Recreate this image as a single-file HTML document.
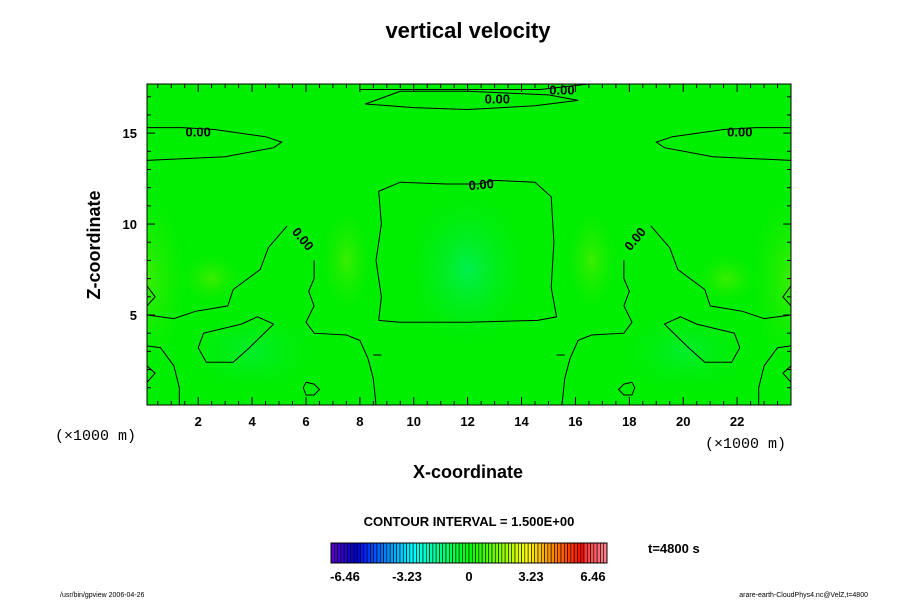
<!DOCTYPE html>
<html><head><meta charset="utf-8"><style>
body{margin:0;background:#fff;}
svg text{font-family:"Liberation Sans",sans-serif;}
svg text.mono{font-family:"Liberation Mono",monospace;}
</style></head><body>
<svg id="chart" width="900" height="600" xmlns="http://www.w3.org/2000/svg">
<defs>
<radialGradient id="gC"><stop offset="0" stop-color="#00f070"/><stop offset="1" stop-color="#00ee00" stop-opacity="0"/></radialGradient>
<radialGradient id="gY"><stop offset="0" stop-color="#55ee00"/><stop offset="1" stop-color="#22ee00" stop-opacity="0"/></radialGradient>
<radialGradient id="gL"><stop offset="0" stop-color="#00ee40"/><stop offset="1" stop-color="#00ee00" stop-opacity="0"/></radialGradient>
<clipPath id="clipP"><rect x="147" y="84" width="644" height="321"/></clipPath>
</defs>
<text x="468" y="38" font-size="22" font-weight="bold" text-anchor="middle">vertical velocity</text>
<g id="plot"></g>
<text transform="translate(100,245) rotate(-90)" font-size="18" font-weight="bold" text-anchor="middle">Z-coordinate</text>
<text x="468" y="478" font-size="18" font-weight="bold" text-anchor="middle">X-coordinate</text>
<text class="mono" x="55" y="440" font-size="15">(×1000 m)</text>
<text class="mono" x="705" y="448" font-size="15">(×1000 m)</text>
<text x="469" y="526" font-size="13" font-weight="bold" text-anchor="middle">CONTOUR INTERVAL = 1.500E+00</text>
<g id="cbar"></g>
<text x="648" y="553" font-size="13" font-weight="bold">t=4800 s</text>
<text x="60" y="597" font-size="7">/usr/bin/gpview 2006-04-26</text>
<text x="868" y="597" font-size="7" text-anchor="end">arare-earth-CloudPhys4.nc@VelZ,t=4800</text>
</svg>
<script>
const xTicks=[2,4,6,8,10,12,14,16,18,20,22];
const yTicks=[5,10,15];
const cbarTicks=[-6.46,-3.23,0,3.23,6.46];
const cbarLabels=["-6.46","-3.23","0","3.23","6.46"];
const contourLabels=[[2,15.1],[5.9,9.2],[12.5,12.2],[13.1,16.9],[15.5,17.4],[22.1,15.1],[18.2,9.2]];
const leftTop=[[0.1,15.3],[1.4,15.3],[2.6,15.2],[4.5,14.8],[5.1,14.5],[4.8,14.2],[3,13.7],[0.1,13.5]];
const leftMount=[[0.1,5.0],[1.1,4.8],[1.9,5.2],[3.1,5.5],[3.3,6.4],[4.3,7.5],[4.6,8.7],[5.3,9.9]];
const leftMount2=[[6.3,8.0],[6.3,7.0],[6.1,6.3],[6.3,5.5],[6.0,4.6],[6.3,4.0],[7.5,3.9],[8.0,3.6],[8.3,2.6],[8.5,1.5],[8.6,0.05]];
const blob=[[4.8,4.5],[4.2,4.9],[3.6,4.5],[2.2,4.0],[2.0,3.2],[2.3,2.4],[3.3,2.4],[3.9,3.2],[4.8,4.5]];
const lowCorner=[[0.1,3.3],[0.6,3.2],[1.1,2.2],[1.3,1.0],[1.3,0.05]];
const lowBump=[[0.1,2.2],[0.4,1.8],[0.1,1.3]];
const edgeBump=[[0.1,6.6],[0.4,6.0],[0.1,5.5]];
const ring=[[6.0,1.3],[6.3,1.2],[6.5,0.9],[6.3,0.6],[6.0,0.6],[5.9,1.0],[6.0,1.3]];
const centerBox=[[8.7,4.7],[9.5,4.6],[12,4.6],[14.6,4.7],[15.3,4.9],[15.1,6.5],[15.2,9],[15.1,11.5],[14.5,12.3],[13,12.4],[12.4,12.2],[11.2,12.2],[9.5,12.3],[8.7,11.8],[8.8,10],[8.6,8],[8.8,6],[8.7,4.7]];
const topLens=[[8.2,16.6],[10,16.4],[12,16.3],[14.5,16.5],[16.1,16.8],[15,17.1],[12,17.3],[9.5,17.3],[8.2,16.6]];
const topLine=[[8.0,17.4],[11.5,17.4],[14.7,17.4],[16.5,17.7]];
const dash=[[8.5,2.8],[8.8,2.8]];
const X0=0.1,X1=24,Y0=0.05,Y1=17.7,PL=147,PR=791,PT=84,PB=405;
const sx=x=>PL+(x-X0)/(X1-X0)*(PR-PL);
const sy=y=>PB-(y-Y0)/(Y1-Y0)*(PB-PT);
const NS="http://www.w3.org/2000/svg";
const plot=document.getElementById('plot');
function mk(tag,attrs,parent){const e=document.createElementNS(NS,tag);for(const k in attrs)e.setAttribute(k,attrs[k]);parent.appendChild(e);return e;}
const field=mk('g',{'clip-path':'url(#clipP)'},plot);


let bg=mk('rect',{x:PL,y:PT,width:PR-PL,height:PB-PT,fill:'#00ee00'},field);


const blobs=[[12,7.5,70,90,'url(#gC)'],[0.1,7,40,90,'url(#gY)'],[24,7,40,90,'url(#gY)'],[2.5,7,30,25,'url(#gY)'],[21.6,7,30,25,'url(#gY)'],[7.5,8,25,50,'url(#gY)'],[16.6,8,25,50,'url(#gY)'],[4,3,80,50,'url(#gL)'],[20.1,3,80,50,'url(#gL)']];
blobs.forEach(b=>{const e=mk('ellipse',{cx:sx(b[0]),cy:sy(b[1]),rx:b[2],ry:b[3],fill:b[4],opacity:0.7},field);

});
function line(pts,mirror){const d=pts.map((p,i)=>(i?'L':'M')+sx(mirror?24.1-p[0]:p[0]).toFixed(1)+','+sy(p[1]).toFixed(1)).join('');
const e=mk('path',{d:d,fill:'none',stroke:'#000','stroke-width':1},field);

}
[leftTop,leftMount,leftMount2,blob,lowCorner,lowBump,edgeBump,ring,dash].forEach(p=>{line(p,false);line(p,true);});
[centerBox,topLens,topLine].forEach(p=>line(p,false));
contourLabels.forEach((c,i)=>{const rot=(i==1)?50:(i==6?-50:(i==2?-5:0));
const t=mk('text',{x:sx(c[0]),y:sy(c[1])+5,'font-size':13,'font-weight':'bold','text-anchor':'middle',transform:`rotate(${rot},${sx(c[0])},${sy(c[1])})`},plot);


t.textContent='0.00';});
let fr=mk('rect',{x:PL,y:PT,width:PR-PL,height:PB-PT,fill:'none',stroke:'#000','stroke-width':1},plot);


for(let v=0.5;v<24;v+=0.5){const big=v%2==0;const l=big?8:4;
mk('line',{x1:sx(v),x2:sx(v),y1:PB,y2:PB-l,stroke:'#000'},plot);mk('line',{x1:sx(v),x2:sx(v),y1:PT,y2:PT+l,stroke:'#000'},plot);}
for(let v=1;v<=17;v++){const big=v%5==0;const l=big?8:4;
mk('line',{x1:PL,x2:PL+l,y1:sy(v),y2:sy(v),stroke:'#000'},plot);mk('line',{x1:PR,x2:PR-l,y1:sy(v),y2:sy(v),stroke:'#000'},plot);}
xTicks.forEach(v=>{const t=mk('text',{x:sx(v),y:PB+21,'font-size':13,'font-weight':'bold','text-anchor':'middle'},plot);


t.textContent=v;});
yTicks.forEach(v=>{const t=mk('text',{x:PL-10,y:sy(v)+5,'font-size':13,'font-weight':'bold','text-anchor':'end'},plot);


t.textContent=v;});
const cb=document.getElementById('cbar');const CL=331,CR=607,N=84,w=(CR-CL)/N;
for(let i=0;i<N;i++){const f=i/(N-1);let col;
if(f<0.92){col=`hsl(${265-265*f/0.92},100%,${f<0.1?40:50}%)`;}else{col=`hsl(${360-5*(f-0.92)/0.08},100%,${60+15*(f-0.92)/0.08}%)`;}
const r=mk('rect',{x:CL+i*w,y:543,width:w,height:20,fill:col,stroke:'#000','stroke-width':0.6},cb);

}
mk('rect',{x:CL,y:543,width:CR-CL,height:20,fill:'none',stroke:'#000','stroke-width':1},cb);
const cx=v=>469+v/6.46*124;
cbarTicks.forEach((v,i)=>{const t=mk('text',{x:cx(v),y:581,'font-size':13,'font-weight':'bold','text-anchor':'middle'},cb);


t.textContent=cbarLabels[i];});
</script>
</body></html>
